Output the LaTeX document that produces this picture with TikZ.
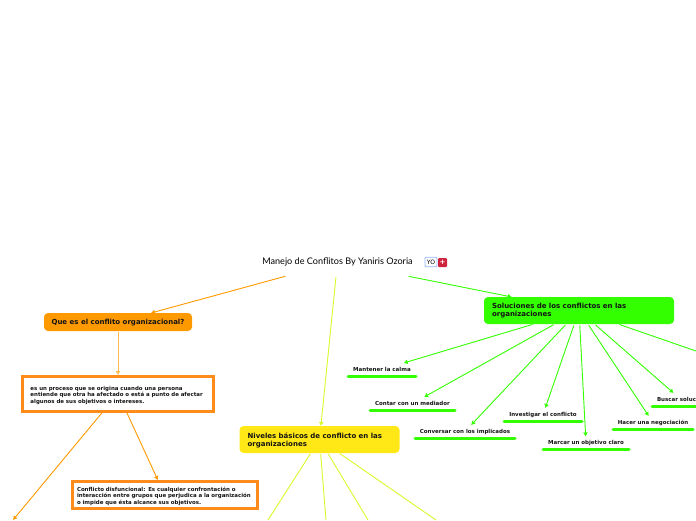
\documentclass[tikz,border=0pt]{standalone}
\usepackage{fontspec}
\setmainfont{DejaVu Sans}
\newfontfamily\titlefont{Lato}
\usetikzlibrary{arrows.meta,positioning}
\definecolor{lima}{RGB}{51,255,0}
\definecolor{naranja}{RGB}{255,153,0}
\definecolor{marco}{RGB}{255,140,26}
\definecolor{oro}{RGB}{255,232,21}
\definecolor{limon}{RGB}{217,250,40}
\definecolor{tinta}{RGB}{20,20,20}

\begin{document}
\begin{tikzpicture}[x=1pt,y=-1pt,
  rama/.style={rounded corners=4pt,align=left,inner sep=0pt,outer sep=0pt,text=tinta,font=\fontsize{7}{8}\selectfont\bfseries},
  caja/.style={draw=marco,line width=3pt,fill=white,align=left,inner sep=0pt,outer sep=1pt,text=tinta,font=\fontsize{5.45}{6.6}\selectfont\bfseries},
  hoja/.style={inner sep=0pt,outer sep=0pt,text=tinta,font=\fontsize{5.5}{6}\selectfont\bfseries},
  raya/.style={lima,line width=3pt,line cap=round},
  arrN/.style={-{Latex[length=4pt,width=5pt]},naranja,line width=.9pt,shorten <=1pt},
  arrV/.style={-{Latex[length=4pt,width=5pt]},lima,line width=.9pt,shorten <=1.5pt},
  arrA/.style={limon,line width=.9pt,shorten <=1pt}
]
\useasboundingbox (0,0) rectangle (696,520);
\clip (0,0) rectangle (696,520);
% titulo
\node[minimum width=200pt,minimum height=28pt,inner sep=0pt,outer sep=0pt,font=\titlefont\fontsize{9.1}{11}\selectfont] (titulo) at (337.5,262) {Manejo de Conflitos By Yaniris Ozoria};
\node[draw={rgb,255:red,150;green,180;blue,250},rounded corners=1pt,line width=.8pt,minimum width=12pt,minimum height=9.5pt,inner sep=0pt,font=\fontsize{6}{6}\selectfont] (yo) at (431,262) {YO};
\node[fill={rgb,255:red,205;green,35;blue,60},rounded corners=1pt,minimum size=9pt,inner sep=0pt,text=white,font=\fontsize{7}{7}\selectfont\bfseries] (icono) at (442.5,262.5) {+};
% ramas
\node[rama,fill=naranja,minimum width=148pt,minimum height=18pt] (conflito) at (118,322) {\rule{0pt}{7pt}Que es el conflito organizacional?};
\node[rama,fill=oro,minimum width=160pt,minimum height=27pt,text width=144pt] (niveles) at (319.5,439.5) {\rule{0pt}{7pt}Niveles básicos de conflicto en las\\organizaciones};
\node[rama,fill=lima,minimum width=190pt,minimum height=27pt,text width=174pt] (soluc) at (579,310.5) {Soluciones de los conflictos en las\\organizaciones};
% cajas
\node[caja,below=44pt of conflito,minimum width=191pt,minimum height=35pt,text width=175pt] (proceso) {\rule{0pt}{8pt}es un proceso que se origina cuando una persona\\entiende que otra ha afectado o está a punto de afectar\\algunos de sus objetivos o intereses.};
\node[caja,minimum width=185pt,minimum height=27pt,text width=175pt] (disfun) at (164.5,494.5) {\rule{0pt}{8pt}Conflicto disfuncional: Es cualquier confrontación o\\interacción entre grupos que perjudica a la organización\\o impide que ésta alcance sus objetivos.};
% hojas
\node[hoja,minimum width=68pt,minimum height=13pt] (calma) at (382,369.5) {Mantener la calma};
\node[hoja,minimum width=85pt,minimum height=13pt] (mediador) at (412.5,403.5) {Contar con un mediador};
\node[hoja,minimum width=100pt,minimum height=13pt] (implicados) at (465,431.5) {Conversar con los implicados};
\node[hoja,minimum width=78pt,minimum height=13pt] (investigar) at (543,414.5) {Investigar el conflicto};
\node[hoja,minimum width=86pt,minimum height=13pt] (objetivo) at (586,443) {Marcar un objetivo claro};
\node[hoja,minimum width=80pt,minimum height=13pt] (negociar) at (653,422.5) {Hacer una negociación};
\node[hoja,minimum width=58pt,minimum height=13pt,text width=48pt,align=left] (buscar) at (681,399.5) {Buscar soluc};
% extremos libres
\coordinate (finN) at (13,520);
\coordinate (finA) at (268,520);
\coordinate (finB) at (326,520);
\coordinate (finC) at (368,520);
\coordinate (finD) at (436,520);
\coordinate (finV) at (696,351);
% conectores
\draw[arrN] (titulo) -- (conflito);
\draw[arrA,-{Latex[length=4pt,width=5pt]}] (titulo) -- (niveles);
\draw[arrV] (titulo) -- (soluc);
\draw[arrN,naranja!70] (conflito) -- (proceso);
\draw[arrN] (proceso) -- (disfun);
\draw[arrN] (proceso) -- (finN);
\foreach \hoja in {calma,mediador,implicados,investigar,objetivo,negociar,buscar} {
  \draw[arrV] (soluc) -- (\hoja);
  \draw[raya] (\hoja.south west) -- (\hoja.south east);
}
\draw[arrV,-] (soluc) -- (finV);
\foreach \fin in {finA,finB,finC,finD} \draw[arrA] (niveles) -- (\fin);
\end{tikzpicture}
\end{document}
